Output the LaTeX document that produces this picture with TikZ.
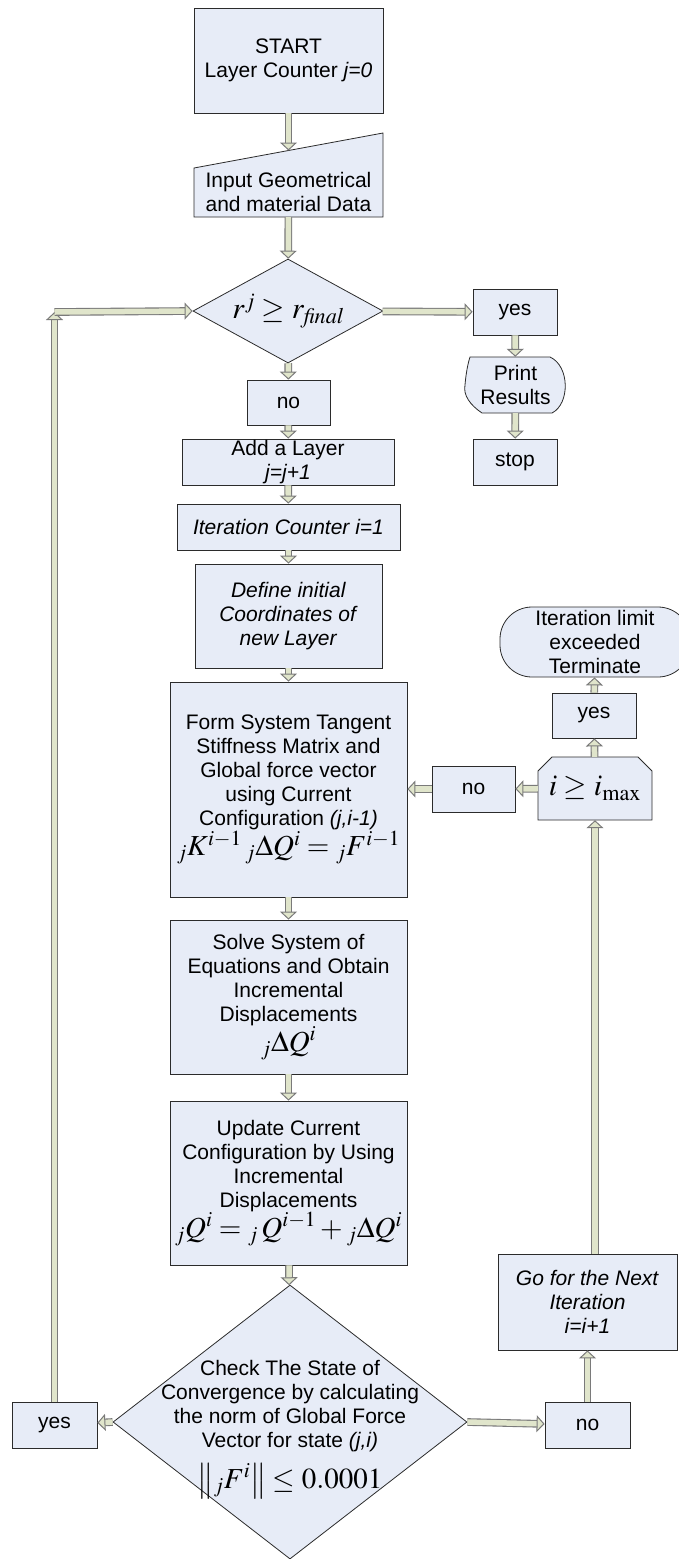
\documentclass[tikz,border=0pt]{standalone}
\usepackage{mathptmx}
\usepackage[no-math]{fontspec}
\setmainfont{Liberation Sans}
\usetikzlibrary{shapes,arrows.meta,positioning,calc}
\definecolor{BoxFill}{HTML}{E7ECF7}
\definecolor{BoxLine}{HTML}{2B2B2B}
\definecolor{ArrowFill}{HTML}{E0E5CB}
\definecolor{ArrowLine}{HTML}{7A7A7A}
% text of a node that should not change the size of its shape
\newcommand{\flatbox}[2][0pt]{\makebox[0pt]{\smash{\raisebox{#1}{#2}}}}
\newcommand{\bigmath}{\fontsize{29}{31}\selectfont}

\begin{document}
\begin{tikzpicture}[x=1pt,y=-1pt,
    txt/.style={inner sep=0pt, align=center, font=\fontsize{21}{24}\selectfont},
    box/.style={txt, draw=BoxLine, fill=BoxFill, line width=0.8pt},
    boxline/.style={draw=BoxLine, fill=BoxFill, line width=0.8pt},
    flowarrow/.style={draw=ArrowLine, line width=1.1pt, double=ArrowFill, double distance=5.5pt,
        -{Triangle[length=8pt, width=17pt, fill=ArrowFill, line width=1pt]}}]
\useasboundingbox (0,0) rectangle (678,1559);

% main column
\node[box, minimum width=189pt, minimum height=105pt] (start) at (288.5,60.5) {START\\Layer Counter \textit{j=0}};
\draw[boxline] (194,217) -- (383,217) -- (383,133) -- (194,168) -- cycle;
\node[txt, minimum width=189pt, minimum height=50pt] (input) at (288.5,192) {Input Geometrical\\and material Data};
\coordinate (inputtop) at (288.5,150.5);
\node[box, diamond, aspect=2, minimum width=190pt, minimum height=104pt] (final) at (288,311)
    {\fontsize{30}{32}\selectfont $r^{j}\ge r_{\mathit{final}}$};
\node[box, minimum width=83pt, minimum height=45pt] (noT) at (288.5,402.5) {no};
\node[box, minimum width=212pt, minimum height=46pt] (addlayer) at (288,462) {Add a Layer\\\textit{j=j+1}};
\node[box, minimum width=223pt, minimum height=46pt] (itercount) at (288.5,527) {\textit{Iteration Counter i=1}};
\node[box, minimum width=187pt, minimum height=104pt] (define) at (288.5,616)
    {\textit{Define initial}\\\textit{Coordinates of}\\\textit{new Layer}};
\node[box, minimum width=237pt, minimum height=215pt] (form) at (288.5,789.5)
    {Form System Tangent\\Stiffness Matrix and\\Global force vector\\using Current\\Configuration \textit{(j,i-1)}\\
     {\bigmath ${}_{j}K^{i-1}\,{}_{j}\Delta Q^{i}={}_{j}F^{i-1}$}};
\node[box, minimum width=237pt, minimum height=154pt] (solve) at (288.5,997)
    {Solve System of\\Equations and Obtain\\Incremental\\Displacements\\{\bigmath ${}_{j}\Delta Q^{i}$}};
\node[box, minimum width=237pt, minimum height=164pt] (update) at (288.5,1183)
    {Update Current\\Configuration by Using\\Incremental\\Displacements\\
     {\bigmath ${}_{j}Q^{i}={}_{j}\,Q^{i-1}+{}_{j}\Delta Q^{i}$}};
\node[box, diamond, minimum width=354pt, minimum height=274pt] (check) at (290,1422)
    {\flatbox[-12pt]{\begin{tabular}{@{}c@{}}Check The State of\\Convergence by calculating\\the norm of Global Force\\
     Vector for state \textit{(j,i)}\\[9pt]{\bigmath $\big\|{}_{j}F^{i}\big\|\le 0.0001$}\end{tabular}}};
\node[box, minimum width=85pt, minimum height=46pt] (yesL) at (54.5,1425) {yes};
\node[box, minimum width=85pt, minimum height=46pt] (noR) at (587.5,1425) {no};
\node[box, minimum width=179pt, minimum height=96pt] (go) at (587.5,1302)
    {\textit{Go for the Next}\\\textit{Iteration}\\\textit{i=i+1}};
\coordinate (loopcorner) at (54.5,312);

% right branch of the first test
\node[box, minimum width=84pt, minimum height=46pt] (yesT) at (515,312) {yes};
\draw[boxline] (470,357) -- (550,357) .. controls (570,366) and (570,404) .. (552,413) -- (482,413)
    .. controls (470,405) and (463,395) .. (465,385) .. controls (466,373) and (468,363) .. (470,357) -- cycle;
\node[txt, minimum width=101pt, minimum height=56pt] (print) at (515.5,385) {Print\\Results};
\node[box, minimum width=84pt, minimum height=46pt] (stop) at (515,462) {stop};

% iteration limit
\draw[boxline] (538,820) -- (652,820) -- (652,771) -- (638,757) -- (552,757) -- (538,771) -- cycle;
\node[txt, minimum width=114pt, minimum height=63pt] (imax) at (595,788.5)
    {\fontsize{30}{32}\selectfont $i\ge i_{\max}$};
\node[box, minimum width=84pt, minimum height=45pt] (yesR) at (594,715.5) {yes};
\node[box, rounded corners=32pt, minimum width=190pt, minimum height=70pt] (term) at (595,642)
    {Iteration limit\\exceeded\\Terminate};
\node[box, minimum width=83pt, minimum height=46pt] (noM) at (473.5,789) {no};

% connectors
\draw[flowarrow] (start) -- (inputtop);
\draw[flowarrow] (input) -- (final);
\draw[flowarrow] (final) -- (yesT);
\draw[flowarrow] (yesT) -- (print);
\draw[flowarrow] (print) -- (stop);
\draw[flowarrow] (final) -- (noT);
\draw[flowarrow] (noT) -- (addlayer);
\draw[flowarrow] (addlayer) -- (itercount);
\draw[flowarrow] (itercount) -- (define);
\draw[flowarrow] (define) -- (form);
\draw[flowarrow] (form) -- (solve);
\draw[flowarrow] (solve) -- (update);
\draw[flowarrow] (update) -- (check);
\draw[flowarrow] (check.west) -- (yesL);
\draw[flowarrow] (check.east) -- (noR);
\draw[flowarrow] (noR) -- (go);
\draw[flowarrow] (imax.south |- go.north) -- (imax.south);
\draw[flowarrow] (imax) -- (noM);
\draw[flowarrow] (noM) -- (form.east |- noM);
\draw[flowarrow] (imax) -- (yesR);
\draw[flowarrow] (yesR) -- (term);
\draw[flowarrow] (yesL) -- (loopcorner);
\draw[flowarrow] (loopcorner) -- (final.west);
\end{tikzpicture}
\end{document}
